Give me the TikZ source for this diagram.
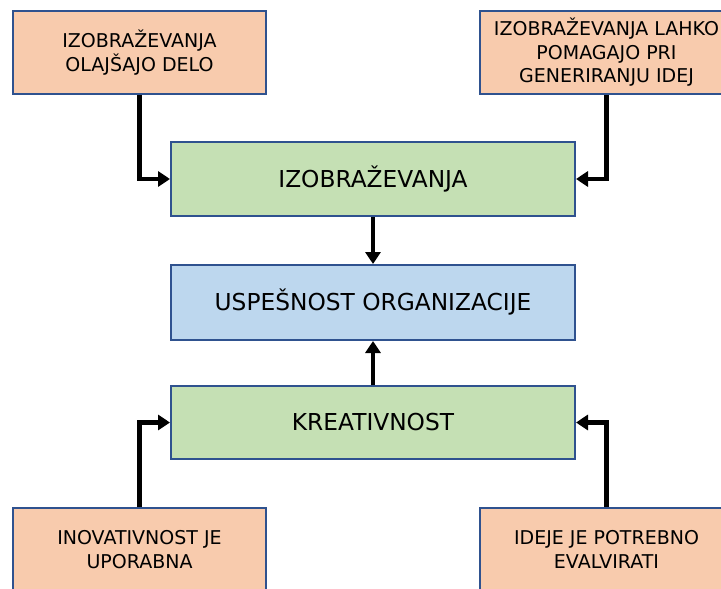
\documentclass[tikz,border=0pt]{standalone}
\usepackage{fontspec}
\setmainfont{DejaVu Sans}
\usetikzlibrary{arrows.meta}
\definecolor{orangefill}{HTML}{F8CBAD}
\definecolor{greenfill}{HTML}{C5E0B4}
\definecolor{bluefill}{HTML}{BDD7EE}
\definecolor{boxline}{HTML}{2F528F}
\begin{document}
\begin{tikzpicture}[x=1pt,y=-1pt,
  box/.style={draw=boxline, line width=2pt, rectangle, inner sep=0pt, align=center, text=black},
  smallbox/.style={box, fill=orangefill, minimum width=253pt, minimum height=83pt, font=\fontsize{19}{23.5}\selectfont},
  midbox/.style={box, minimum width=404pt, font=\fontsize{23.3}{28}\selectfont},
  conn/.style={line width=4.5pt, -{Triangle[length=12pt,width=15pt]}}]
\clip (0,0) rectangle (721,589);
\fill[white] (0,0) rectangle (721,589);
% middle column
\node[midbox, fill=greenfill, minimum height=74pt] (ig) at (373,179) {IZOBRAŽEVANJA};
\node[midbox, fill=bluefill, minimum height=75pt] (uo) at (373,302.5) {USPEŠNOST ORGANIZACIJE};
\node[midbox, fill=greenfill, minimum height=73pt] (kr) at (373,422.5) {KREATIVNOST};
% corner boxes
\node[smallbox] (tl) at (139.5,52.5) {IZOBRAŽEVANJA\\OLAJŠAJO DELO};
\node[smallbox] (tr) at (606.5,52.5) {IZOBRAŽEVANJA LAHKO\\POMAGAJO PRI\\GENERIRANJU IDEJ};
\node[smallbox] (bl) at (139.5,549.5) {INOVATIVNOST JE\\UPORABNA};
\node[smallbox] (br) at (606.5,549.5) {IDEJE JE POTREBNO\\EVALVIRATI};
% connectors
\draw[conn] (tl) |- (ig);
\draw[conn] (tr) |- (ig);
\draw[conn] (bl) |- (kr);
\draw[conn] (br) |- (kr);
\draw[conn] (ig) -- (uo);
\draw[conn] (kr) -- (uo);
\end{tikzpicture}
\end{document}
